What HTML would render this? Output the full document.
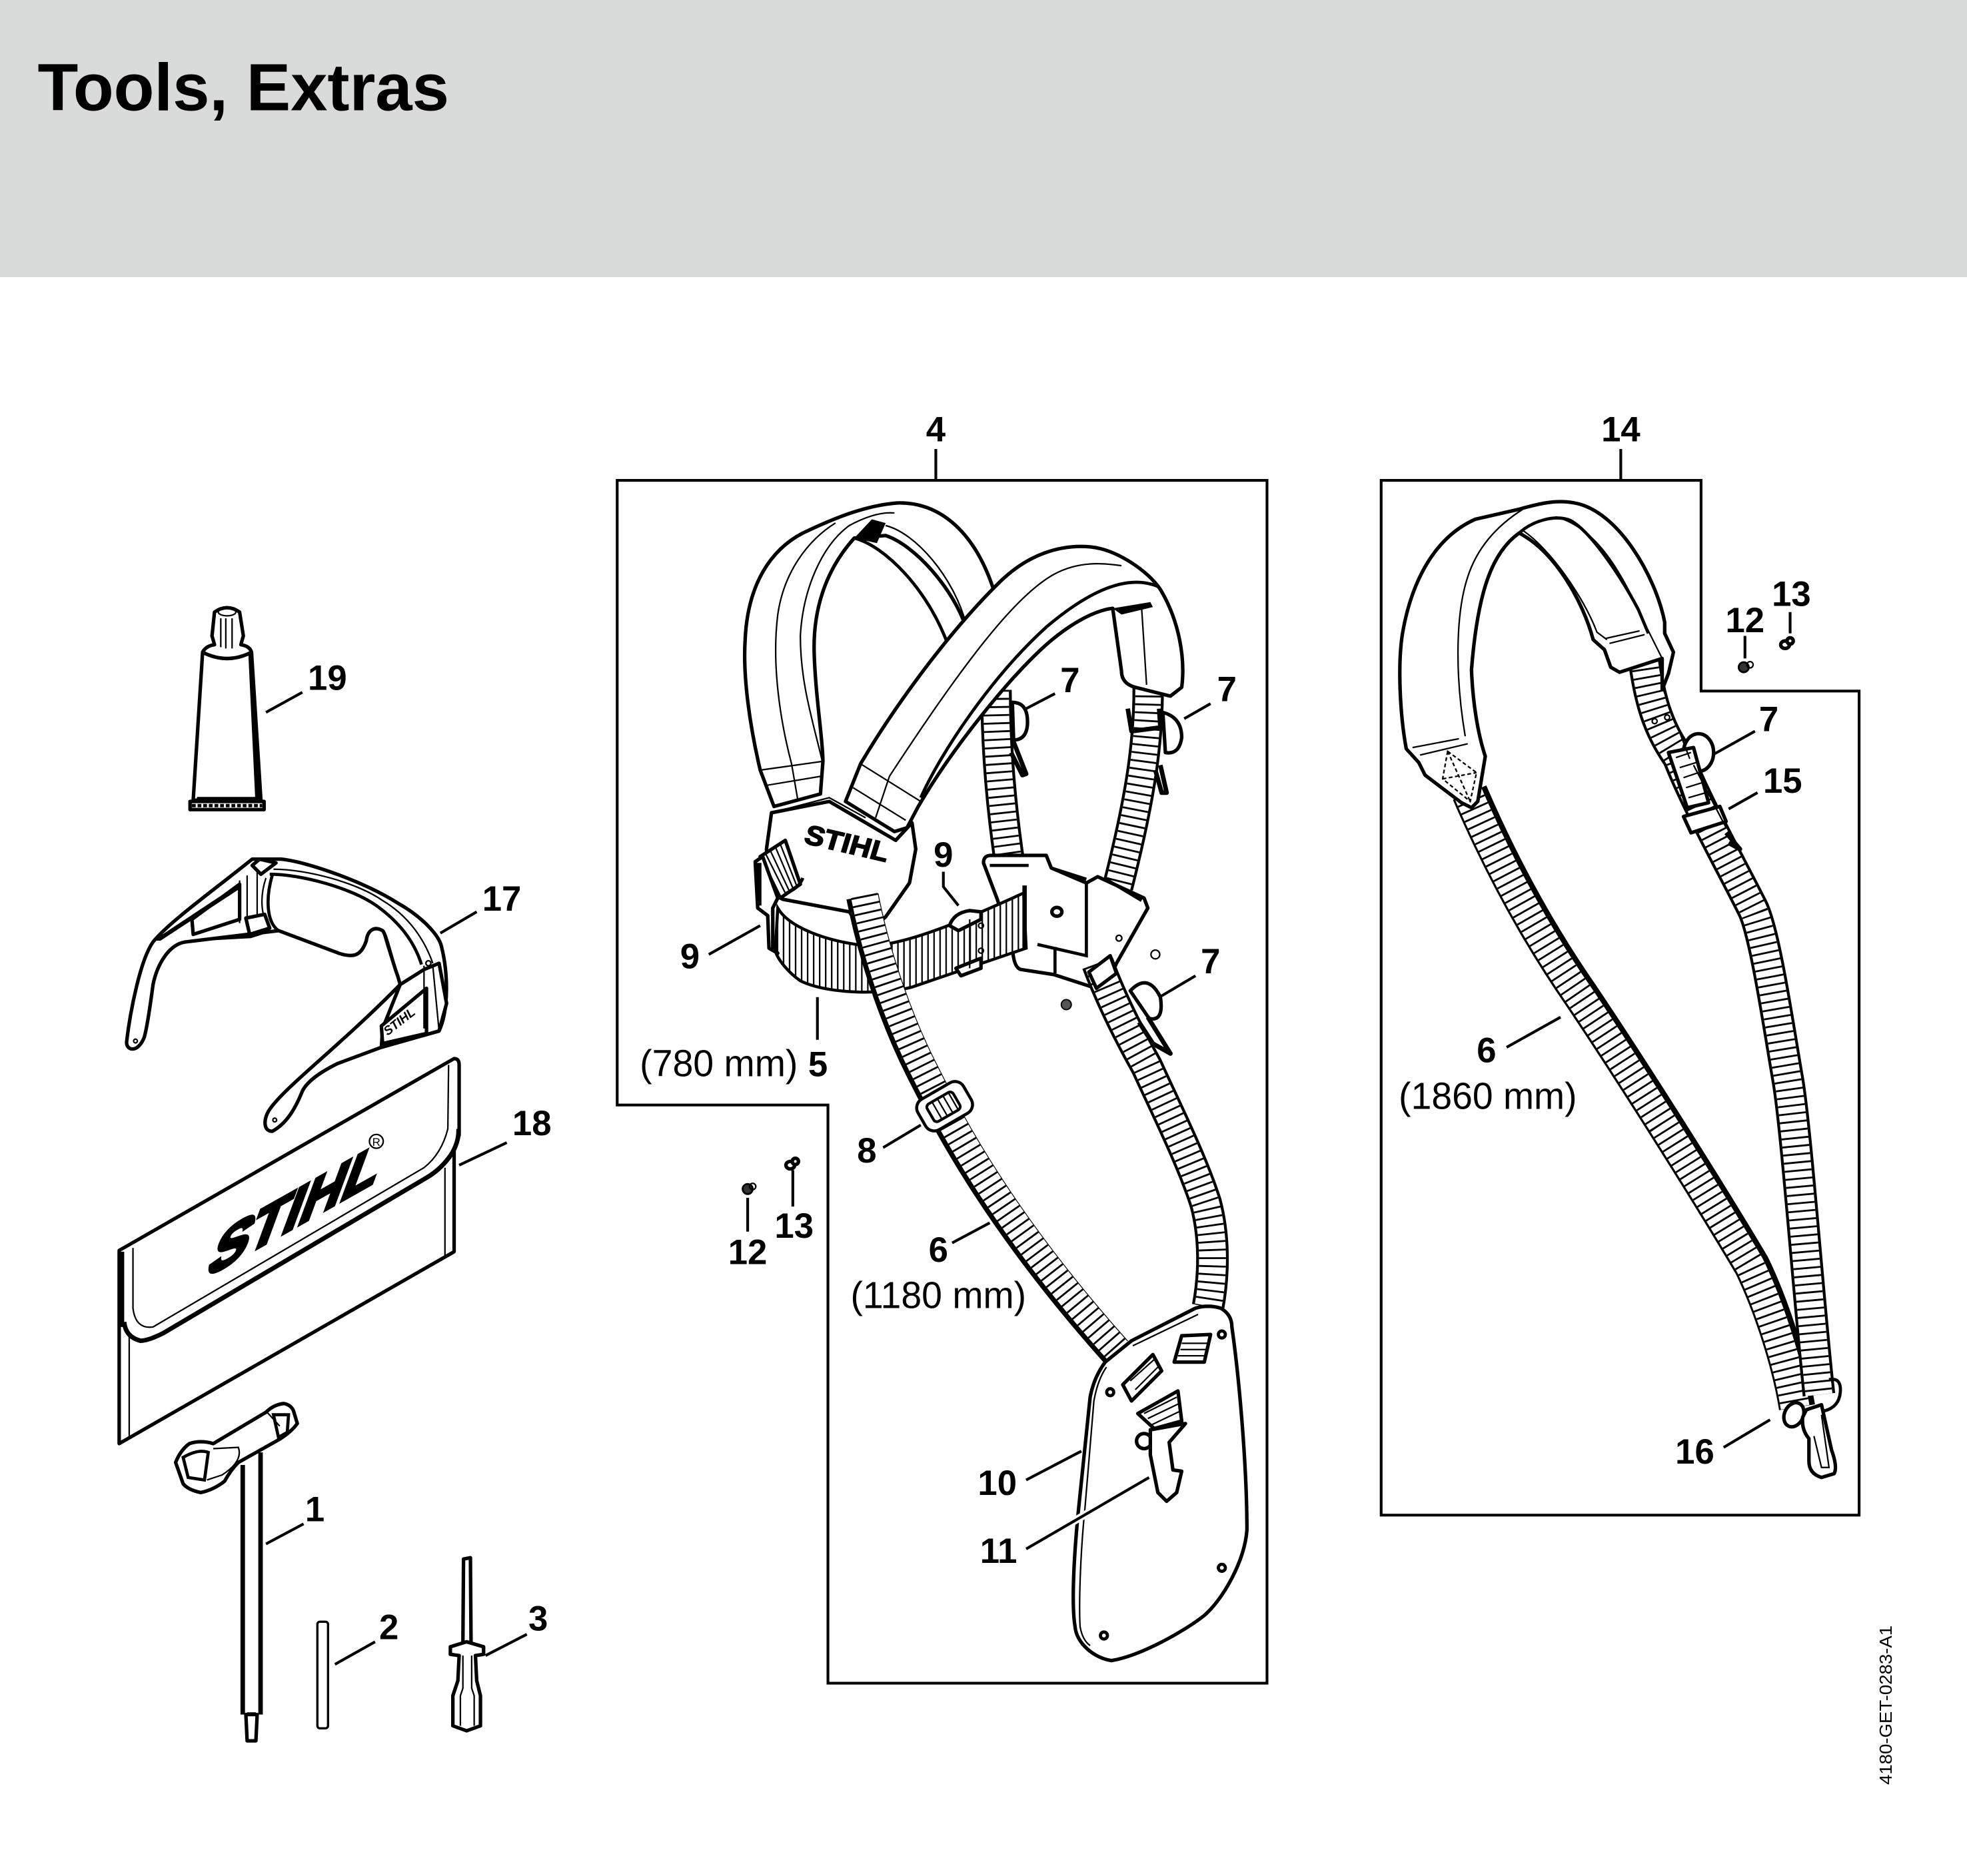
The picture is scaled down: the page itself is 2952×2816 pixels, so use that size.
<!DOCTYPE html>
<html><head><meta charset="utf-8"><title>Tools, Extras</title>
<style>
html,body{margin:0;padding:0;background:#fff}
svg{display:block}
text{font-family:"Liberation Sans",sans-serif;fill:#000}
.n{font-weight:bold;font-size:28px;text-anchor:middle}
.m{font-size:30px;text-anchor:middle}
.b{fill:none;stroke:#000;stroke-width:2.200}
.l{fill:none;stroke:#000;stroke-width:2.500;stroke-linecap:butt}
.f{fill:#fff;stroke:#000;stroke-width:2.800;stroke-linejoin:round}
.t{fill:none;stroke:#000;stroke-width:1.200}
.h{fill:none;stroke:#000;stroke-width:3.600;stroke-linejoin:round}
</style></head><body>
<svg xmlns="http://www.w3.org/2000/svg" width="2952" height="2816" viewBox="0 0 1568 1495.74">
<defs>
<path id="a" d="M689,714 C700,770 720,820 735,850 C760,900 800,975 891,1077"/>
<path id="b" d="M794,550 C794,600 799,650 805,690"/>
<path id="c" d="M915,535 C917,590 908,640 891,707"/>
<path id="d" d="M875,768 C885,795 900,825 914,850 C930,885 950,925 961,959 C968,985 968,1015 963,1042"/>
<path id="g" d="M1170,632 C1195,690 1225,745 1259,794 C1300,855 1360,950 1395,1009 C1410,1040 1425,1085 1431,1122"/>
<path id="i" d="M1310,520 C1315,565 1325,585 1338,604 C1352,640 1380,690 1397,724 C1407,744 1418,820 1425,860 C1432,900 1442,1040 1450,1112"/>
<pattern id="v" width="4.800" height="10" patternUnits="userSpaceOnUse"><rect width="4.800" height="10" fill="#fff"/><rect width="1.200" height="10" fill="#000"/></pattern>
</defs>

<rect width="1568" height="221" fill="#d9dbda"/>
<text x="30" y="88" font-size="53" font-weight="bold" textLength="328" lengthAdjust="spacingAndGlyphs">Tools, Extras</text>

<!-- boxes -->
<path class="b" d="M492,383H1010V1342H660V881H492ZM746,358V383M1101,383H1356V551H1482V1208H1101ZM1292,358V383"/>

<!-- tube 19 -->
<path class="f" d="M161.500,520 L154,638 H208 L200.500,520 Q181,530 161.500,520Z"/>
<path d="M198,522L201,522L208,638L203.500,638Z"/>
<path class="f" d="M161.500,520 Q164,515 171,514 L169,507 L171,488 Q181,481 191,488 L194,507 L192,514 Q199,515 200.500,520 Q181,530 161.500,520Z"/>
<ellipse cx="181" cy="488" rx="7" ry="3" class="t"/>
<path class="t" d="M176,493V516M180,493V517M185,493V517"/>
<rect x="151.500" y="639" width="59" height="6.500" class="f" stroke-width="2"/>
<path d="M153,642.300H209" stroke="#000" stroke-width="2.600" stroke-dasharray="3 1.500"/>
<path class="t" d="M157,636H204"/>

<!-- glasses 17 -->
<path class="f" d="M101,830 C104,805 112,765 122,751 C135,735 170,710 201,685 L224,685 C245,687 290,703 317,720 C335,730 350,745 352,755 C357,775 358,805 350,822 L304,835 L269,848 C255,855 245,862 241,870 C235,885 228,896 217,902 C210,902 210,893 214,886 C225,868 270,835 319,785 L317,778 C312,765 308,745 305,742 C298,738 293,742 292,750 C288,762 282,764 270,760 L222,742 L148,751 C134,753 125,770 122,785 C120,800 117,820 115,827 C110,840 100,838 101,830Z" stroke-width="2.200"/>
<path class="l" stroke-width="2" d="M215,697 C240,697 280,708 300,722 C318,735 330,750 336,769"/>
<path class="t" d="M218,693 C245,693 285,704 305,718 C325,730 338,748 345,768"/>
<path class="l" stroke-width="2" d="M217,698 C212,715 212,735 222,742"/>
<path class="t" d="M212,700 C207,715 208,730 214,738M305,742 C310,760 315,775 320,785"/>
<path class="f" stroke-width="1.600" d="M153,733 L191,705 V733 L154,745Z"/>
<path class="t" d="M191,702V736M197,698V734M205,695V730"/>
<path class="f" stroke-width="1.600" d="M196,732 L211,729 L215,740 L199,745Z"/>
<path class="f" stroke-width="1.600" d="M201,690 L207,685 L220,688 L208,697 Z"/>
<path d="M146,751 L222,741 L200,748Z M122,750 L190,705 L192,708 L128,750Z"/>
<path class="f" stroke-width="2" d="M319,785 L338,773 L350,768 L356,800 L350,822 L304,835 L305,820Z"/>
<path class="f" stroke-width="1.600" d="M304,818 L340,788 L340,824 L305,832Z"/>
<path class="t" d="M345,770 L350,822M338,770V820"/>
<circle cx="341.500" cy="768" r="2" class="t"/><circle cx="108" cy="830" r="1.500" class="t"/><circle cx="219" cy="893" r="1.500" class="t"/>
<text transform="translate(309,826) rotate(-38)" font-size="10" font-style="italic" font-weight="bold">STIHL</text>

<!-- pouch 18 -->
<path class="f" d="M95,997 L362,844 Q366,844 366,849 V905 L362,917 V998 L95,1151Z" stroke-width="2.400"/>
<path class="h" d="M99,1054 Q100,1066 112,1069 Q118,1069 130,1063 L340,939 Q352,932 360,920 Q366,910 365.500,900"/>
<path class="t" stroke-width="1.500" d="M106,995 V1043 Q108,1060 122,1058 L338,931 Q352,920 357,900 L357.600,849"/>
<path class="t" d="M103,1066V1146M354.700,931V1001"/>
<rect x="94" y="998" width="5" height="60"/>
<text transform="matrix(.87 -.49 -.37 1 163 1019)" font-size="53" font-weight="bold" textLength="155" lengthAdjust="spacingAndGlyphs" stroke="#000" stroke-width="3.200">STIHL</text>
<circle cx="300" cy="910" r="5.500" class="t"/>
<text x="300" y="913.500" font-size="9" text-anchor="middle">R</text>

<!-- T wrench 1 -->
<path class="h" d="M193.500,1168V1367M207.700,1158V1367M197,1367H204"/>
<path class="f" d="M196,1367H205L204,1388H197Z"/>
<path class="f" stroke-width="3" d="M140,1166 Q144,1156 151,1151 Q160,1148 170,1151 L212,1126 Q218,1120 226,1119 Q232,1120 234,1125 L237,1135 Q232,1142 222,1148 L190,1166 Q184,1172 179,1181 Q170,1188 160,1190 Q150,1188 146,1183Z"/>
<path class="l" stroke-width="2" d="M146,1162 Q158,1155 166,1158 L163,1180 L150,1178Z M218,1128 L230,1128 L229,1142 L222,1146Z"/>
<path class="t" d="M170,1155 L190,1154 Q194,1165 177,1176 L165,1180M212,1125 L223,1137"/>

<!-- pin 2 -->
<rect x="253" y="1293" width="8.500" height="85" rx="2" fill="#fff" stroke="#000" stroke-width="1.800"/>

<!-- screwdriver 3 -->
<path class="f" stroke-width="2" d="M369.500,1243 L375,1242 L375.500,1310 H369Z"/>
<path class="f" stroke-width="2" d="M359,1313 L372,1309 L385.500,1313 V1319 L379,1320 L380,1340 L383,1352 V1376 L372,1380 L361,1376 V1352 L365,1340 L366,1320 L359,1319Z"/>
<path class="t" d="M369,1320V1346L367,1352V1376M376,1320V1346L378,1352V1376"/>

<!-- HARNESS -->
<!-- left back pad -->
<path class="f" d="M606,614 C598,580 592,540 594,510 C596,465 615,438 640,425 C665,413 690,403 715,401 C750,400 778,425 793,473 L770,500 C760,470 730,435 706,427 L681,429 C662,450 648,480 649,520 C650,555 656,590 656,607 L654,633 L617,643Z"/>
<path class="l" stroke-width="2.800" d="M681,429 C705,435 740,470 756,515"/>
<path class="t" d="M631,609 C622,575 615,530 620,490 C625,455 645,430 666,417M656,609 C648,575 638,545 638,507 C640,470 655,435 677,419 C690,412 702,408 713,409M706,419 C730,425 760,460 770,497M631,609 L636,638M606,614 L656,607M612,626 L654,619"/>
<path d="M681,429 L695,414 L706,417 L699,433Z"/>

<!-- rear straps with rungs -->
<use href="#b" fill="none" stroke="#000" stroke-width="25"/><use href="#b" fill="none" stroke="#fff" stroke-width="20.500"/><use href="#b" fill="none" stroke="#000" stroke-width="20.500" stroke-dasharray="1.500 5"/>
<use href="#c" fill="none" stroke="#000" stroke-width="25"/><use href="#c" fill="none" stroke="#fff" stroke-width="20.500"/><use href="#c" fill="none" stroke="#000" stroke-width="20.500" stroke-dasharray="1.500 5"/>
<path class="f" d="M807,560 Q820,560 819,578 Q818,590 808,590Z"/>
<path class="f" d="M927,568 Q942,572 942,588 Q940,602 929,600Z"/>
<path class="h" d="M807,589 L818,617 L815,618 L806,600M925,610 L930,632 L926,632 L921,614M899,565 L902,583L925,580L924,565"/>

<!-- chest plate -->
<path class="f" d="M784,688 Q784,682 790,682 L834,682 L838,692 L866,704 L875,699 L912,716 L915,724 L890,768 L880,790 L840,777 L814,773 Q808,772 807,755 L795,717Z"/>
<path class="l" d="M866,704 V762 L827,753M838,692 L866,701M841,755 V776"/>
<ellipse cx="842.500" cy="727" rx="4" ry="3.500" class="f" stroke-width="2"/><circle cx="892" cy="748" r="2.300" class="t"/>
<path class="l" d="M789,690 H820M880,700 L910,718"/>
<circle cx="921" cy="761" r="3.500" class="t" stroke-width="2"/><circle cx="850" cy="801" r="4" fill="#555" stroke="#000"/>

<!-- belt -->
<path d="M620,724 C628,738 655,750 690,754 C720,755 770,733 816,712 L818,756 L727,787 C705,793 660,793 638,782 C628,775 620,765 618,758Z" fill="url(#v)" stroke="#000" stroke-width="2.400"/>
<rect x="815" y="706" width="3.500" height="51"/>
<path class="f" stroke-width="2.200" d="M757,738 Q760,728 773,726 L782,727 L782,733 L764,742Z"/>
<path class="f" stroke-width="2.200" d="M762,772 L782,764 L782,772 L766,778Z"/>
<path class="t" d="M773,733V772"/>
<circle cx="782" cy="738" r="2" class="t"/><circle cx="782" cy="758" r="2" class="t"/>

<!-- STIHL back plate -->
<path class="f" d="M615,648 L661,639 L714,670 L727,656 L730,677 L725,704 L706,731 L690,745 L677,727 L624,717 L614,712 L611,677Z"/>
<text transform="matrix(.974 .225 -.3 1 640,672)" font-size="21" font-weight="bold" textLength="68" lengthAdjust="spacingAndGlyphs" stroke="#000" stroke-width=".8">STIHL</text>
<path class="f" d="M606,683 L626,670 L638,705 L622,716Z"/>
<path class="t" d="M610,680L626,712M614,678L629,710M618,675L632,708M622,673L635,706"/>
<path class="f" d="M602,687 L608,683 L620,716 L616,724 L616,755 L620,760 L613,756 L612,730 L604,724Z"/>
<rect x="603" y="688" width="4" height="34" fill="#000"/>
<path class="l" d="M627,712 Q637,708 640,700"/>

<!-- front strap + strap 6 -->
<use href="#a" fill="none" stroke="#000" stroke-width="26" transform="translate(-1.500,.7)"/>
<use href="#a" fill="none" stroke="#fff" stroke-width="21.500"/><use href="#a" fill="none" stroke="#000" stroke-width="21.500" stroke-dasharray="1.500 5"/>
<use href="#d" fill="none" stroke="#000" stroke-width="26"/><use href="#d" fill="none" stroke="#fff" stroke-width="21.500"/><use href="#d" fill="none" stroke="#000" stroke-width="21.500" stroke-dasharray="1.500 5"/>
<path class="f" d="M901,790 Q915,775 925,795 Q928,815 916,812Z"/>
<path class="h" d="M915,811 L933,840 L919,832 L908,815"/>
<path class="f" d="M868,775 L885,762 L890,776 L874,788Z"/>
<!-- buckle 8 -->
<g transform="translate(753,882) rotate(-30)">
<rect x="-21" y="-14" width="42" height="28" rx="8" fill="#fff" stroke="#000" stroke-width="2.400"/>
<rect x="-13" y="-8" width="24" height="16" rx="3" fill="#fff" stroke="#000" stroke-width="2.200"/>
<path class="t" d="M-7,-8V8M-2,-8V8M3,-8V8M8,-8V8"/>
</g>

<!-- front pad -->
<path class="f" d="M686,609 C712,565 755,505 798,463 C820,442 845,434 869,436 C890,438 915,455 925,470 C940,495 945,525 942,548 L933,555 L905,548 Q894,545 894,535 L887,485 C870,487 850,500 834,514 C805,540 760,595 732,643 L723,660 L713,663 L674,639Z"/>
<path class="t" d="M894,451 C880,449 860,447 840,458 C815,472 780,510 709,619"/>
<path class="l" d="M734,636 C750,600 790,540 834,500 C860,478 895,455 924,468"/>
<path class="t" d="M910,484 L914,546M686,609 L734,639M680,628 L722,654M709,619 L698,652"/>
<path d="M887,485 L917,480 L919,484 L894,490Z"/>
<path class="t" d="M615,648 L661,636 L690,652"/>

<!-- plate 10 -->
<path class="f" d="M881,1086 L902,1069 L953,1043 Q963,1040 973,1043 Q982,1048 982,1058 C988,1100 994,1170 994,1220 C992,1245 975,1275 960,1288 C945,1300 910,1320 886,1324 C872,1322 858,1310 857,1297 C854,1280 856,1240 860,1201 L869,1114 Q872,1098 881,1086Z" stroke-width="3"/>
<path class="t" stroke-width="1.500" d="M882,1090 Q875,1100 872,1117 L865,1201 C861,1240 860,1280 861,1297 Q863,1308 869,1312M903,1073 L955,1048"/>
<path class="f" stroke-width="2.200" d="M895,1104 L919,1080 L926,1093 L902,1117Z"/>
<path class="t" d="M901,1101 L920,1084M905,1108 L923,1090"/>
<path class="f" stroke-width="2.200" d="M942,1065 L965,1064 L960,1086 L936,1086Z"/>
<path class="t" d="M942,1071H963M941,1076H962M939,1081H961"/>
<path class="f" stroke-width="2.200" d="M907,1127 L939,1109 L942,1133 L920,1139Z"/>
<path class="t" d="M912,1127L938,1114M915,1131L940,1119M918,1136L941,1125"/>
<circle cx="912" cy="1149" r="6" class="f" stroke-width="2"/>
<path class="f" stroke-width="2.200" d="M917,1140 L945,1135 L932,1150 L935,1172 L942,1173 L938,1190 L930,1197 L923,1190 L917,1160Z"/>
<circle cx="885" cy="1110" r="2.800" class="l"/><circle cx="974" cy="1064" r="2.800" class="l"/><circle cx="974" cy="1250" r="2.800" class="l"/><circle cx="880" cy="1304" r="2.800" class="l"/>

<!-- screws -->
<circle cx="596" cy="948" r="4" fill="#333" stroke="#000" stroke-width="1.500"/><circle cx="600" cy="946" r="2.500" class="t"/>
<ellipse cx="630" cy="929" rx="3.500" ry="3" class="f" stroke-width="1.600"/><circle cx="634" cy="926" r="2.500" class="f" stroke-width="1.400"/>
<circle cx="1390" cy="532" r="4" fill="#333" stroke="#000" stroke-width="1.500"/><circle cx="1395" cy="530" r="2.500" class="t"/>
<ellipse cx="1423" cy="514" rx="3.500" ry="3" class="f" stroke-width="1.600"/><circle cx="1427" cy="511" r="2.500" class="f" stroke-width="1.400"/>

<!-- STRAP 14 -->
<use href="#g" fill="none" stroke="#000" stroke-width="29" transform="translate(1.500,0)"/>
<use href="#g" fill="none" stroke="#fff" stroke-width="23"/><use href="#g" fill="none" stroke="#000" stroke-width="23" stroke-dasharray="1.500 5"/>
<use href="#i" fill="none" stroke="#000" stroke-width="26"/><use href="#i" fill="none" stroke="#fff" stroke-width="21.500"/><use href="#i" fill="none" stroke="#000" stroke-width="21.500" stroke-dasharray="1.500 5"/>
<path class="f" stroke-width="3" d="M1121,597 C1116,570 1114,530 1118,505 C1124,470 1140,430 1176,414 L1211,406 C1225,402 1240,398 1255,401 C1290,407 1320,460 1327,496 V505 L1334,520 L1330,537 L1325,550 L1325,525 L1291,536 L1284,532 L1279,518 L1270,510 C1262,480 1240,440 1211,425 C1190,440 1178,470 1173,534 C1174,560 1178,585 1184,603 L1178,639 L1173,644 L1165,640 L1136,618 L1131,608Z"/>
<path class="t" stroke-width="1.500" d="M1168,587 C1160,540 1160,490 1170,460 C1178,435 1195,418 1214,406"/>
<path class="l" d="M1211,425 C1222,415 1240,410 1252,415 C1270,425 1295,465 1306,486 L1314,505"/>
<path class="t" d="M1214,423 C1235,437 1262,475 1273,504 L1281,510M1240,412 C1270,420 1290,450 1310,495L1325,525M1280,509 L1307,503M1283,513 L1311,506M1126,596 L1163,589M1132,602 L1170,593"/>
<path class="t" stroke-dasharray="3 2" d="M1154,599 L1177,616 L1172,639 L1150,621Z M1154,599 L1172,639 M1150,621 L1177,616"/>
<ellipse cx="1354" cy="600" rx="12" ry="15" class="f" stroke-width="2"/>
<path class="f" stroke-width="2.200" d="M1330,600 L1350,596 L1362,640 L1345,644Z"/>
<path class="t" d="M1336,604 L1348,600M1339,612L1352,608M1342,620L1354,616M1344,628L1357,624M1346,636L1360,632"/>
<path class="f" stroke-width="2.400" d="M1342,651 L1371,643 L1376,655 L1348,664Z"/>
<path class="h" d="M1376,664 L1387,677 L1378,672"/>
<path class="t" stroke-width="1.800" d="M1326,550 L1347,605M1350,610 L1376,660"/>
<circle cx="1319" cy="575" r="2" class="t"/><circle cx="1329" cy="572" r="2" class="t"/>
<!-- hook 16 -->
<ellipse cx="1430" cy="1128" rx="7.500" ry="10" class="f" stroke-width="2.200" transform="rotate(25 1430 1128)"/>
<path class="l" d="M1458,1100 Q1468,1098 1467,1110 Q1466,1122 1454,1125"/>
<path class="f" stroke-width="2.200" d="M1440,1124 L1452,1120 L1460,1156 Q1465,1170 1462,1175 L1452,1178 Q1442,1175 1442,1165 L1442,1147 Q1436,1140 1437,1130Z"/>
<path class="t" d="M1446,1145 L1452,1170 L1458,1170 L1452,1128"/>

<!-- leaders -->
<g stroke="#fff" stroke-width="6" fill="none"><path d="M818,1235 L916,1178"/></g>
<path class="b" d="M841,553 L818,565M965,561 L944,573M953,778 L926,794M752,695 V707 L764,722M565,761 L606,738M651.600,795 V829M704,915 L734,897M759,991 L789,975M818,1180 L862,1157M818,1235 L916,1178M596,955 V982M632,933 V962M1391,507 V525M1427,488 V505M1399,583 L1365,602M1401,632 L1378,645M1201,835 L1244,811M1374,1154 L1411,1132M212,568 L241,552M351,744 L380,727M366,929 L404,911M212,1231 L242,1215M267,1327 L299,1309M387,1320 L420,1303"/>

<!-- labels -->
<g>
<text class="n" x="746" y="352">4</text>
<text class="n" x="853" y="552">7</text>
<text class="n" x="978" y="559">7</text>
<text class="n" x="965" y="776">7</text>
<text class="n" x="752" y="691">9</text>
<text class="n" x="550" y="772">9</text>
<text class="n" x="652" y="858">5</text>
<text class="n" x="691" y="927">8</text>
<text class="n" x="748" y="1006">6</text>
<text class="n" x="795" y="1192">10</text>
<text class="n" x="796" y="1246">11</text>
<text class="n" x="596" y="1008">12</text>
<text class="n" x="633" y="987">13</text>
<text class="n" x="1292" y="352">14</text>
<text class="n" x="1391" y="504">12</text>
<text class="n" x="1428" y="483">13</text>
<text class="n" x="1410" y="583">7</text>
<text class="n" x="1421" y="632">15</text>
<text class="n" x="1185" y="847">6</text>
<text class="n" x="1351" y="1167">16</text>
<text class="n" x="261" y="550">19</text>
<text class="n" x="400" y="726">17</text>
<text class="n" x="424" y="905">18</text>
<text class="n" x="251" y="1213">1</text>
<text class="n" x="310" y="1307">2</text>
<text class="n" x="429" y="1300">3</text>
</g>
<text class="m" x="573" y="858" textLength="126" lengthAdjust="spacingAndGlyphs">(780 mm)</text>
<text class="m" x="748" y="1043" textLength="140" lengthAdjust="spacingAndGlyphs">(1180 mm)</text>
<text class="m" x="1186" y="884" textLength="142" lengthAdjust="spacingAndGlyphs">(1860 mm)</text>
<text transform="translate(1508,1423) rotate(-90)" font-size="14" textLength="127" lengthAdjust="spacingAndGlyphs">4180-GET-0283-A1</text>
</svg>
</body></html>
